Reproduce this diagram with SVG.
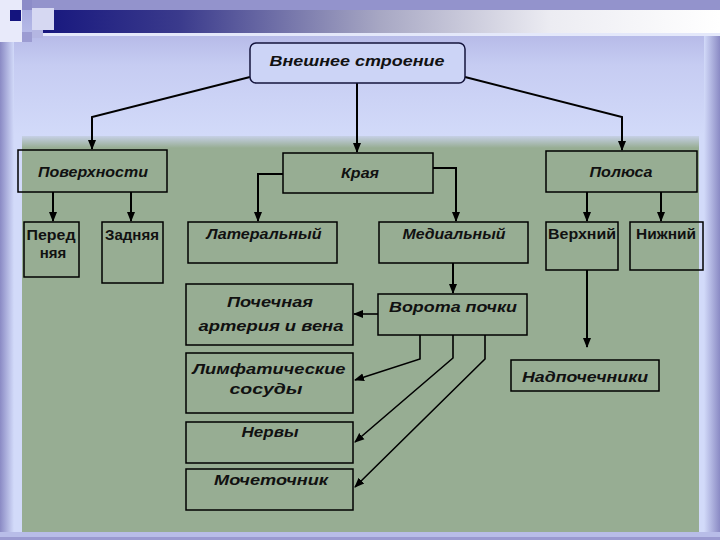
<svg xmlns="http://www.w3.org/2000/svg" width="720" height="540" viewBox="0 0 720 540">
<defs>
<linearGradient id="bg" x1="0" y1="0" x2="0" y2="1">
<stop offset="0" stop-color="#a4a6dc"/>
<stop offset="0.12" stop-color="#c6ccf2"/>
<stop offset="0.25" stop-color="#d2daf9"/>
<stop offset="1" stop-color="#d2daf9"/>
</linearGradient>
<linearGradient id="band" x1="0" y1="0" x2="1" y2="0">
<stop offset="0" stop-color="#17177e"/>
<stop offset="0.2" stop-color="#3a3a8c"/>
<stop offset="0.5" stop-color="#a8a8c4"/>
<stop offset="0.75" stop-color="#ececf2"/>
<stop offset="1" stop-color="#ffffff"/>
</linearGradient>
<linearGradient id="leftEdge" x1="0" y1="0" x2="1" y2="0">
<stop offset="0" stop-color="#8a8ac4"/>
<stop offset="1" stop-color="#d2daf9"/>
</linearGradient>
<linearGradient id="rightEdge" x1="0" y1="0" x2="1" y2="0">
<stop offset="0" stop-color="#d2daf9"/>
<stop offset="1" stop-color="#8a8ac4"/>
</linearGradient>
<linearGradient id="panelTop" x1="0" y1="0" x2="0" y2="1">
<stop offset="0" stop-color="#c6d0e6"/>
<stop offset="1" stop-color="#97ad93"/>
</linearGradient>
<marker id="ah" markerUnits="userSpaceOnUse" markerWidth="10" markerHeight="10" viewBox="0 0 10 10" refX="9" refY="5" orient="auto">
<path d="M0,1 L10,5 L0,9 Z" fill="#000"/>
</marker>
<style>
.box{fill:none;stroke:#000;stroke-width:1.5}
.t{font-family:"Liberation Sans",Arial,sans-serif;font-weight:bold;font-style:italic;font-size:15px;fill:#111;text-anchor:middle}
.n{font-family:"Liberation Sans",Arial,sans-serif;font-weight:bold;font-size:15px;fill:#111;text-anchor:middle}
.c{fill:none;stroke:#000;stroke-width:2}
.d{fill:none;stroke:#000;stroke-width:1.6}
</style>
</defs>
<!-- background -->
<rect x="0" y="0" width="720" height="540" fill="url(#bg)"/>
<rect x="0" y="0" width="720" height="10" fill="#9393cc"/>
<rect x="43" y="10" width="677" height="23" fill="url(#band)"/>
<rect x="0" y="33" width="720" height="3" fill="#e4e8fa"/>
<rect x="0" y="36" width="14" height="504" fill="url(#leftEdge)"/>
<rect x="704" y="36" width="16" height="504" fill="url(#rightEdge)"/>
<!-- corner squares -->
<rect x="0" y="0" width="22" height="42" fill="#e8eafa"/>
<rect x="10" y="10" width="11" height="11" fill="#14147e"/>
<rect x="22" y="0" width="10" height="10" fill="#8c8cc8"/>
<rect x="32" y="8" width="22" height="22" fill="#d6d8f2"/>
<rect x="22" y="32" width="10" height="10" fill="#9c9cd2"/>
<rect x="32" y="30" width="11" height="8" fill="#b4b6e2"/>
<!-- green panel -->
<rect x="22" y="136" width="677" height="12" fill="url(#panelTop)"/>
<rect x="22" y="148" width="677" height="384" fill="#97ad93"/>
<rect x="0" y="532" width="720" height="8" fill="#b8bde8"/>
<rect x="0" y="537" width="720" height="3" fill="#9a9ad0"/>

<g id="connectors">
<polyline class="c" points="250,77 92,117 92,149" marker-end="url(#ah)"/>
<polyline class="c" points="357,83 357,152" marker-end="url(#ah)"/>
<polyline class="c" points="465,77 622,117 622,150" marker-end="url(#ah)"/>
<polyline class="c" points="53,192 53,221" marker-end="url(#ah)"/>
<polyline class="c" points="131,192 131,221" marker-end="url(#ah)"/>
<polyline class="c" points="283,174 258,174 258,221" marker-end="url(#ah)"/>
<polyline class="c" points="433,168 456,168 456,221" marker-end="url(#ah)"/>
<polyline class="c" points="587,192 587,221" marker-end="url(#ah)"/>
<polyline class="c" points="661,192 661,221" marker-end="url(#ah)"/>
<polyline class="c" points="453,263 453,293" marker-end="url(#ah)"/>
<polyline class="c" points="587,270 587,347" marker-end="url(#ah)"/>
<polyline class="d" points="378,314 354,314" marker-end="url(#ah)"/>
<polyline class="d" points="420,335 420,359 355,380" marker-end="url(#ah)"/>
<polyline class="d" points="453,335 453,358 355,442" marker-end="url(#ah)"/>
<polyline class="d" points="485,335 485,359 355,487" marker-end="url(#ah)"/>
</g>

<g id="n-top">
<rect x="250" y="43" width="215" height="40" rx="6" fill="#ccd4f6" stroke="#14143c" stroke-width="1.5"/>
<text class="t" x="357" y="66" font-size="16" textLength="175" lengthAdjust="spacingAndGlyphs">Внешнее строение</text>
</g>
<g id="n-poverhnosti">
<rect class="box" x="18" y="150" width="149" height="42"/>
<text class="t" x="93" y="177" textLength="110" lengthAdjust="spacingAndGlyphs">Поверхности</text>
</g>
<g id="n-kraya">
<rect class="box" x="283" y="153" width="150" height="40"/>
<text class="t" x="360" y="178" textLength="38" lengthAdjust="spacingAndGlyphs">Края</text>
</g>
<g id="n-polyusa">
<rect class="box" x="546" y="151" width="151" height="41"/>
<text class="t" x="621" y="177" textLength="63" lengthAdjust="spacingAndGlyphs">Полюса</text>
</g>
<g id="n-perednyaya">
<rect class="box" x="24" y="222" width="55" height="55"/>
<text class="n" x="51" y="240" textLength="49" lengthAdjust="spacingAndGlyphs">Перед</text>
<text class="n" x="53" y="258">няя</text>
</g>
<g id="n-zadnyaya">
<rect class="box" x="102" y="222" width="61" height="61"/>
<text class="n" x="132" y="240" textLength="54" lengthAdjust="spacingAndGlyphs">Задняя</text>
</g>
<g id="n-lateralny">
<rect class="box" x="188" y="222" width="149" height="41"/>
<text class="t" x="264" y="239" textLength="115" lengthAdjust="spacingAndGlyphs">Латеральный</text>
</g>
<g id="n-medialny">
<rect class="box" x="379" y="222" width="149" height="41"/>
<text class="t" x="454" y="239" textLength="103" lengthAdjust="spacingAndGlyphs">Медиальный</text>
</g>
<g id="n-verhny">
<rect class="box" x="546" y="222" width="72" height="48"/>
<text class="n" x="582" y="239" textLength="68" lengthAdjust="spacingAndGlyphs">Верхний</text>
</g>
<g id="n-nizhny">
<rect class="box" x="630" y="222" width="73" height="48"/>
<text class="n" x="666" y="239" textLength="60" lengthAdjust="spacingAndGlyphs">Нижний</text>
</g>
<g id="n-vorota">
<rect class="box" x="378" y="294" width="149" height="41"/>
<text class="t" x="453" y="312" textLength="128" lengthAdjust="spacingAndGlyphs">Ворота почки</text>
</g>
<g id="n-pochechnaya">
<rect class="box" x="186" y="284" width="167" height="61"/>
<text class="t" x="270" y="307" textLength="86" lengthAdjust="spacingAndGlyphs">Почечная</text>
<text class="t" x="271" y="331" font-size="16" textLength="145" lengthAdjust="spacingAndGlyphs">артерия и вена</text>
</g>
<g id="n-limfa">
<rect class="box" x="186" y="353" width="167" height="60"/>
<text class="t" x="269" y="374" font-size="17" textLength="153" lengthAdjust="spacingAndGlyphs">Лимфатические</text>
<text class="t" x="266" y="394" font-size="17" textLength="73" lengthAdjust="spacingAndGlyphs">сосуды</text>
</g>
<g id="n-nervy">
<rect class="box" x="186" y="422" width="167" height="41"/>
<text class="t" x="270" y="437" textLength="57" lengthAdjust="spacingAndGlyphs">Нервы</text>
</g>
<g id="n-mochetochnik">
<rect class="box" x="186" y="469" width="167" height="41"/>
<text class="t" x="271" y="485" textLength="114" lengthAdjust="spacingAndGlyphs">Мочеточник</text>
</g>
<g id="n-nadpochechniki">
<rect class="box" x="511" y="360" width="148" height="31"/>
<text class="t" x="585" y="382" textLength="126" lengthAdjust="spacingAndGlyphs">Надпочечники</text>
</g>
</svg>
